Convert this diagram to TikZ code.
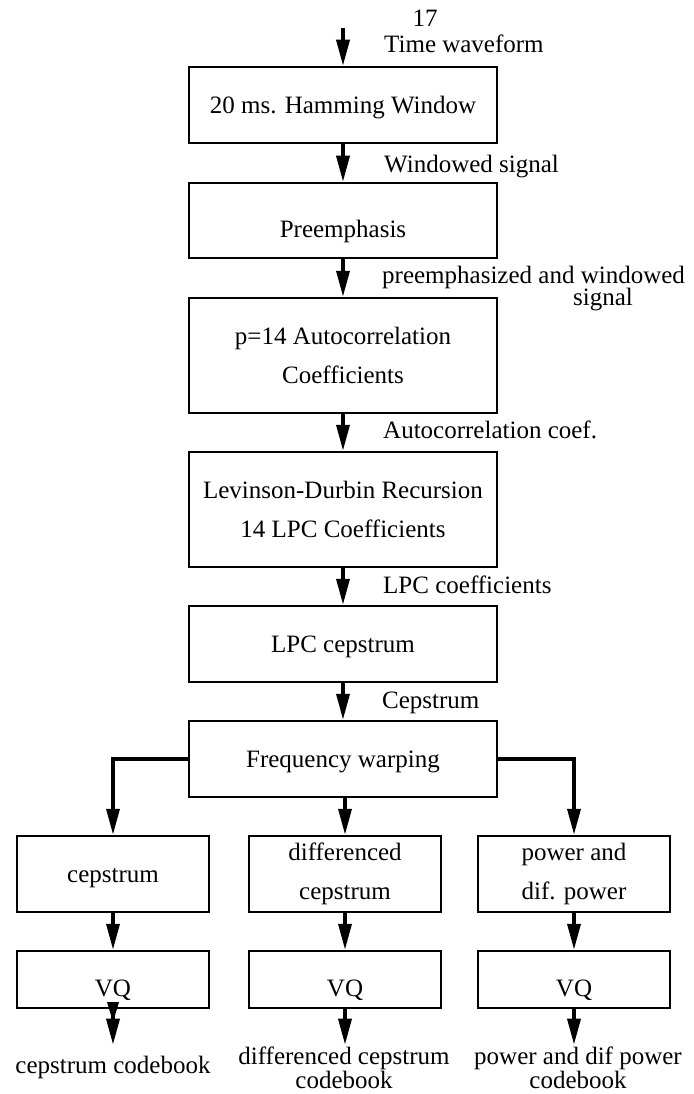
\documentclass[tikz,border=0pt]{standalone}
\usepackage{fontspec}
\setmainfont{Liberation Serif}
\usetikzlibrary{arrows.meta}
\begin{document}
\begin{tikzpicture}[x=1pt,y=-1pt,
  every node/.style={font=\fontsize{25}{38.5}\selectfont},
  box/.style={draw, line width=2.5pt, minimum width=308pt, inner sep=0pt, align=center},
  sbox/.style={draw, line width=2.5pt, minimum width=192pt, inner sep=0pt, align=center},
  one/.style={text height=17pt, text depth=0pt},
  low/.style={text height=33pt, text depth=0pt},
  arr/.style={line width=3.5pt, -{Triangle[width=13pt,length=26pt]}},
  lbl/.style={inner sep=0pt, anchor=base west},
  outlbl/.style={inner sep=0pt, anchor=base, align=center, outer ysep=11pt,
    font=\fontsize{25}{16}\selectfont},
]
\useasboundingbox (0,0) rectangle (693,1094);

% main column
\node[box, one, minimum height=76pt] (b1) at (343,105) {20 ms. Hamming Window};
\node[box, low, minimum height=75pt] (b2) at (343,220.5) {Preemphasis};
\node[box, minimum height=115pt] (b3) at (343,355.5) {p=14 Autocorrelation\\Coefficients};
\node[box, minimum height=115pt] (b4) at (343,509.5) {Levinson-Durbin Recursion\\14 LPC Coefficients};
\node[box, one, minimum height=76pt] (b5) at (343,644) {LPC cepstrum};
\node[box, one, minimum height=76pt] (b6) at (343,759) {Frequency warping};

% branch boxes
\node[sbox, one, minimum height=76pt] (s1) at (113,874) {cepstrum};
\node[sbox, minimum height=76pt] (s2) at (345,874) {differenced\\cepstrum};
\node[sbox, minimum height=76pt] (s3) at (574,874) {power and\\dif. power};
\node[sbox, low, minimum height=57pt] (v1) at (113,979.5) {VQ};
\node[sbox, low, minimum height=57pt] (v2) at (345,979.5) {VQ};
\node[sbox, low, minimum height=57pt] (v3) at (574,979.5) {VQ};

% bottom outputs
\node[outlbl] (o1) at (113,1073) {cepstrum codebook};
\node[outlbl] (o2) at (344,1088) {differenced cepstrum\\codebook};
\node[outlbl] (o3) at (578,1088) {power and dif power\\codebook};

% side labels
\node[inner sep=0pt, anchor=base] (n17) at (425,27) {17};
\node[lbl] (l0) at (384,53) {Time waveform};
\node[lbl] (l1) at (384,173) {Windowed signal};
\node[lbl] (l2a) at (382,283) {preemphasized and windowed};
\node[inner sep=0pt, anchor=base] (l2b) at (603,305) {signal};
\node[lbl] (l3) at (383,438) {Autocorrelation coef.};
\node[lbl] (l4) at (383,593) {LPC coefficients};
\node[lbl] (l5) at (382,708) {Cepstrum};

% connectors
\coordinate (in) at (343,28);
\draw[arr] (in) -- (b1.north);
\draw[arr] (b1) -- (b2);
\draw[arr] (b2) -- (b3);
\draw[arr] (b3) -- (b4);
\draw[arr] (b4) -- (b5);
\draw[arr] (b5) -- (b6);
\draw[arr] (b6.west) -| (s1.north);
\draw[arr] (b6.east) -| (s3.north);
\draw[arr] (b6.south -| s2.north) -- (s2.north);
\draw[arr] (s1) -- (v1);
\draw[arr] (s2) -- (v2);
\draw[arr] (s3) -- (v3);
\coordinate (q1) at (113,1002);
\draw[arr] (q1) -- (o1.north);
\fill (107,1002) -- (119,1002) -- (113,1022) -- cycle;
\draw[arr] (v2.south) -- (v2.south |- o1.north);
\draw[arr] (v3.south) -- (v3.south |- o1.north);
\end{tikzpicture}
\end{document}
